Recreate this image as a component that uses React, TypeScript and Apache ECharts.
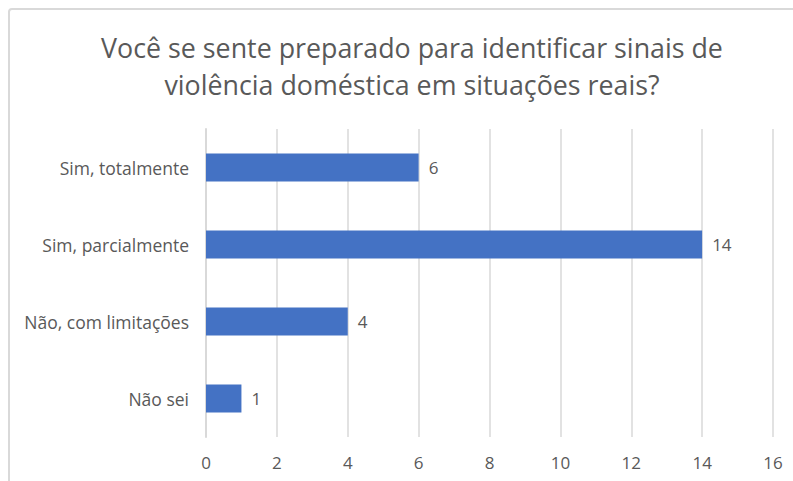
import React, { useEffect, useRef } from "react";
import * as echarts from "echarts";

const categories = ["Sim, totalmente", "Sim, parcialmente", "Não, com limitações", "Não sei"];
const values = [6, 14, 4, 1];
const titleLines = ["Você se sente preparado para identificar sinais de", "violência doméstica em situações reais?"];
const xTicks = { min: 0, max: 16, interval: 2 };

const FONT = "'Open Sans', sans-serif";
const TEXT = "#595959";

export default function App() {
  const ref = useRef<HTMLDivElement>(null);
  useEffect(() => {
    document.body.style.margin = "0";
    const chart = echarts.init(ref.current!, null, { renderer: "svg" });
    chart.setOption({
      animation: false,
      backgroundColor: "#ffffff",
      textStyle: { fontFamily: FONT },
      title: {
        text: titleLines.join("\n"),
        left: 407,
        top: 24,
        textAlign: "center",
        textStyle: { fontFamily: FONT, fontSize: 26.8, fontWeight: "normal", color: TEXT, lineHeight: 37 },
      },
      graphic: [
        {
          type: "rect",
          shape: { x: 9, y: 9, width: 1200, height: 1200, r: 3 },
          style: { fill: "none", stroke: "#d9d9d9", lineWidth: 2 },
          silent: true,
        },
      ],
      grid: { left: 206, right: 20, top: 129, bottom: 44, containLabel: false },
      xAxis: {
        type: "value",
        min: xTicks.min,
        max: xTicks.max,
        interval: xTicks.interval,
        axisLine: { show: false },
        axisTick: { show: false },
        splitLine: { show: true, lineStyle: { color: "#d9d9d9", width: 1.5 } },
        axisLabel: { color: TEXT, fontSize: 17, fontFamily: FONT, margin: 17 },
      },
      yAxis: {
        type: "category",
        data: categories,
        inverse: true,
        axisLine: { show: true, lineStyle: { color: "#d9d9d9", width: 2 } },
        axisTick: { show: false },
        axisLabel: { color: TEXT, fontSize: 17.5, fontFamily: FONT, margin: 17 },
      },
      series: [
        {
          type: "bar",
          data: values,
          barWidth: 28,
          itemStyle: { color: "#4472C4" },
          label: { show: true, position: "right", distance: 10, color: TEXT, fontSize: 17, fontFamily: FONT },
        },
      ],
    });
    return () => chart.dispose();
  }, []);
  return <div ref={ref} style={{ width: 793, height: 481 }} />;
}
